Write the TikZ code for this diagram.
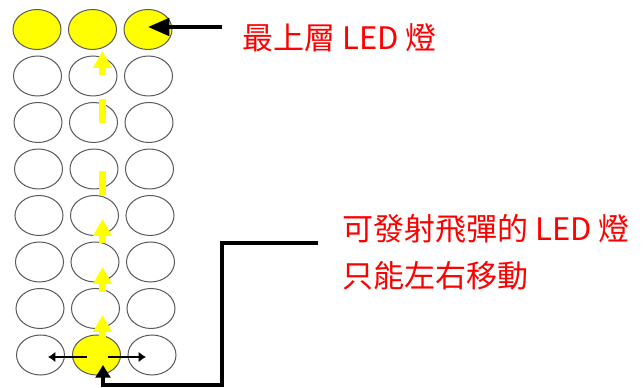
\documentclass[tikz,border=0pt]{standalone}
\usepackage{fontspec}
\newfontfamily\cjk{Noto Sans CJK TC}
\usetikzlibrary{shapes.geometric,arrows.meta}
\definecolor{ledyellow}{RGB}{255,255,0}
\definecolor{ledline}{RGB}{90,90,90}
\definecolor{lblred}{RGB}{255,0,0}
\begin{document}
\begin{tikzpicture}[x=0.75pt,y=-0.75pt,
  led/.style={ellipse, draw=ledline, line width=0.75pt, minimum width=36pt, minimum height=30pt, inner sep=0pt, fill=white},
  lit/.style={led, fill=ledyellow},
  yarrow/.style={draw=ledyellow, line width=5.25pt, -{Triangle[length=12.75pt,width=13.5pt]}},
  ydash/.style={draw=ledyellow, line width=5.25pt},
  toparrow/.style={draw=black, line width=3pt, -{Triangle[length=16pt,width=13pt]}},
  botarrow/.style={draw=black, line width=3pt, -{Triangle[length=9.5pt,width=11pt]}},
  smallarrow/.style={draw=black, line width=2pt, -{Latex[length=5.5pt,width=8pt]}},
  lbl/.style={anchor=base west, inner sep=0pt, text=lblred, font=\cjk\fontsize{23.25pt}{35.25pt}\selectfont}]
\useasboundingbox (0,0) rectangle (643,388);
% LED grid
\foreach \c in {0,1,2}{
  \node[lit] (e0\c) at ({37+55.5*\c},29.5) {};
}
\foreach \r in {1,...,6}{
  \foreach \c in {0,1,2}{
    \node[led] (e\r\c) at ({37+55.5*\c+0.5*\r},{29.5+46.5*\r}) {};
  }
}
\node[led] (e70) at (40.5,355) {};
\node[lit] (e71) at (96.5,355) {};
\node[led] (e72) at (152,355) {};
% yellow upward path
\draw[yarrow] (102.5,75) -- (102.5,51);
\draw[ydash] (102.5,99) -- (102.5,123);
\draw[ydash] (102.5,171) -- (102.5,195);
\draw[yarrow] (102.5,243) -- (102.5,219);
\draw[yarrow] (102.5,292) -- (102.5,267);
\draw[yarrow] (102.5,337) -- (102.5,315);
% left/right moves
\coordinate (ls) at (87,357);
\coordinate (le) at (48,357);
\coordinate (rs) at (108,357);
\coordinate (re) at (146,357);
\draw[smallarrow] (ls) -- (le);
\draw[smallarrow] (rs) -- (re);
% labels
\node[lbl] (top) at (242,50) {最上層 LED 燈};
\node[lbl] (fire1) at (342,241) {可發射飛彈的 LED 燈};
\node[lbl] (fire2) at (342,288) {只能左右移動};
% callout connectors
\coordinate (ts) at (222,27);
\draw[toparrow] (ts) -- (ts -| e02.center);
\coordinate (bs) at (318,243);
\coordinate (bend) at (222,385);
\coordinate (tipb) at (103,365);
\draw[botarrow] (bs) -| (bend) -- (bend -| tipb) -- (tipb);
\end{tikzpicture}
\end{document}
